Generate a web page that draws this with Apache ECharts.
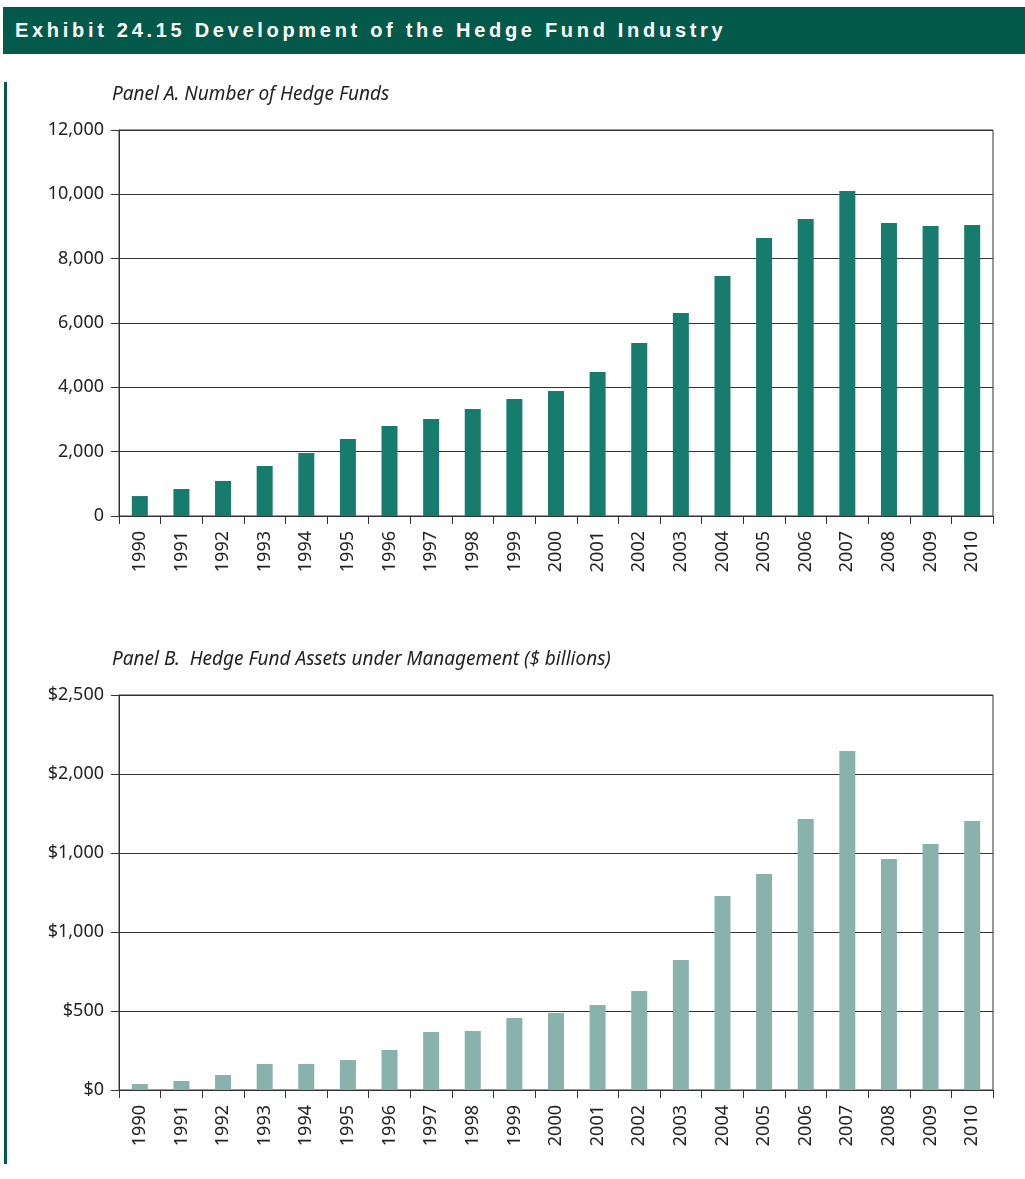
<!DOCTYPE html>
<html><head><meta charset="utf-8">
<script src="https://cdn.jsdelivr.net/npm/echarts@6/dist/echarts.min.js"></script>
<style>html,body{margin:0;padding:0;background:#fff}
#wrap{position:relative;width:1025px;height:1179px}
#c{width:1025px;height:1179px}
#hdr{position:absolute;left:3px;top:7px;width:1022px;height:47px;background:#03594a;color:#fff;
  font:bold 20px "Liberation Sans", Arial, sans-serif;letter-spacing:3.7px;line-height:47px;padding-left:12px;box-sizing:border-box;white-space:nowrap}
</style>
</head><body><div id="wrap"><div id="c"></div><div id="hdr">Exhibit 24.15 Development of the Hedge Fund Industry</div></div>
<script>
const years = ['1990','1991','1992','1993','1994','1995','1996','1997','1998','1999','2000','2001','2002','2003','2004','2005','2006','2007','2008','2009','2010'];
const numFunds = [620,840,1090,1555,1960,2390,2800,3015,3325,3635,3885,4475,5380,6310,7460,8640,9235,10100,9110,9015,9045];
const assets = [38,57,95,165,165,190,253,367,374,456,487,538,627,823,1228,1367,1715,2146,1462,1557,1703];
const tickLabelsA = ['0','2,000','4,000','6,000','8,000','10,000','12,000'];
const tickLabelsB = ['$0','$500','$1,000','$1,000','$2,000','$2,500'];

const chart = echarts.init(document.getElementById('c'), null, {renderer:'canvas'});
const axisFont = 'Noto Sans';
function xAxis(gi){
  return {type:'category', gridIndex:gi, data:years, boundaryGap:true,
    axisLine:{lineStyle:{color:'#333',width:1}},
    axisTick:{show:true,length:8,lineStyle:{color:'#333'}},
    axisLabel:{rotate:90,fontSize:18,color:'#222',fontFamily:axisFont,margin:15}};
}
function yAxis(gi,max,interval,labels){
  return {type:'value', gridIndex:gi, min:0, max:max, interval:interval,
    axisLine:{show:true,lineStyle:{color:'#333',width:1}},
    axisTick:{show:true,length:8,lineStyle:{color:'#333'}},
    splitLine:{show:true,lineStyle:{color:'#333',width:1}},
    axisLabel:{fontSize:18,color:'#222',fontFamily:axisFont,margin:15,
      formatter:(v)=>labels[Math.round(v/interval)]}};
}
chart.setOption({
  animation:false,
  grid:[
    {left:119,top:130,width:874,height:386,show:true,borderColor:'#333',borderWidth:1},
    {left:119,top:695,width:874,height:395,show:true,borderColor:'#333',borderWidth:1}
  ],
  xAxis:[xAxis(0),xAxis(1)],
  yAxis:[yAxis(0,12000,2000,tickLabelsA),yAxis(1,2500,500,tickLabelsB)],
  series:[
    {type:'bar',xAxisIndex:0,yAxisIndex:0,data:numFunds,barWidth:16,itemStyle:{color:'#177b6d'}},
    {type:'bar',xAxisIndex:1,yAxisIndex:1,data:assets,barWidth:16,itemStyle:{color:'#88b2ab'}}
  ],
  graphic:[
    {type:'rect',shape:{x:4,y:82,width:3,height:1082},style:{fill:'#03594a'}},
    {type:'text',left:112,top:85,style:{text:'Panel A. Number of Hedge Funds',fill:'#222',
      font:'italic 19px "Noto Sans", sans-serif'}},
    {type:'text',left:112,top:650,style:{text:'Panel B.  Hedge Fund Assets under Management ($ billions)',fill:'#222',
      font:'italic 19px "Noto Sans", sans-serif'}}
  ]
});
</script></body></html>
